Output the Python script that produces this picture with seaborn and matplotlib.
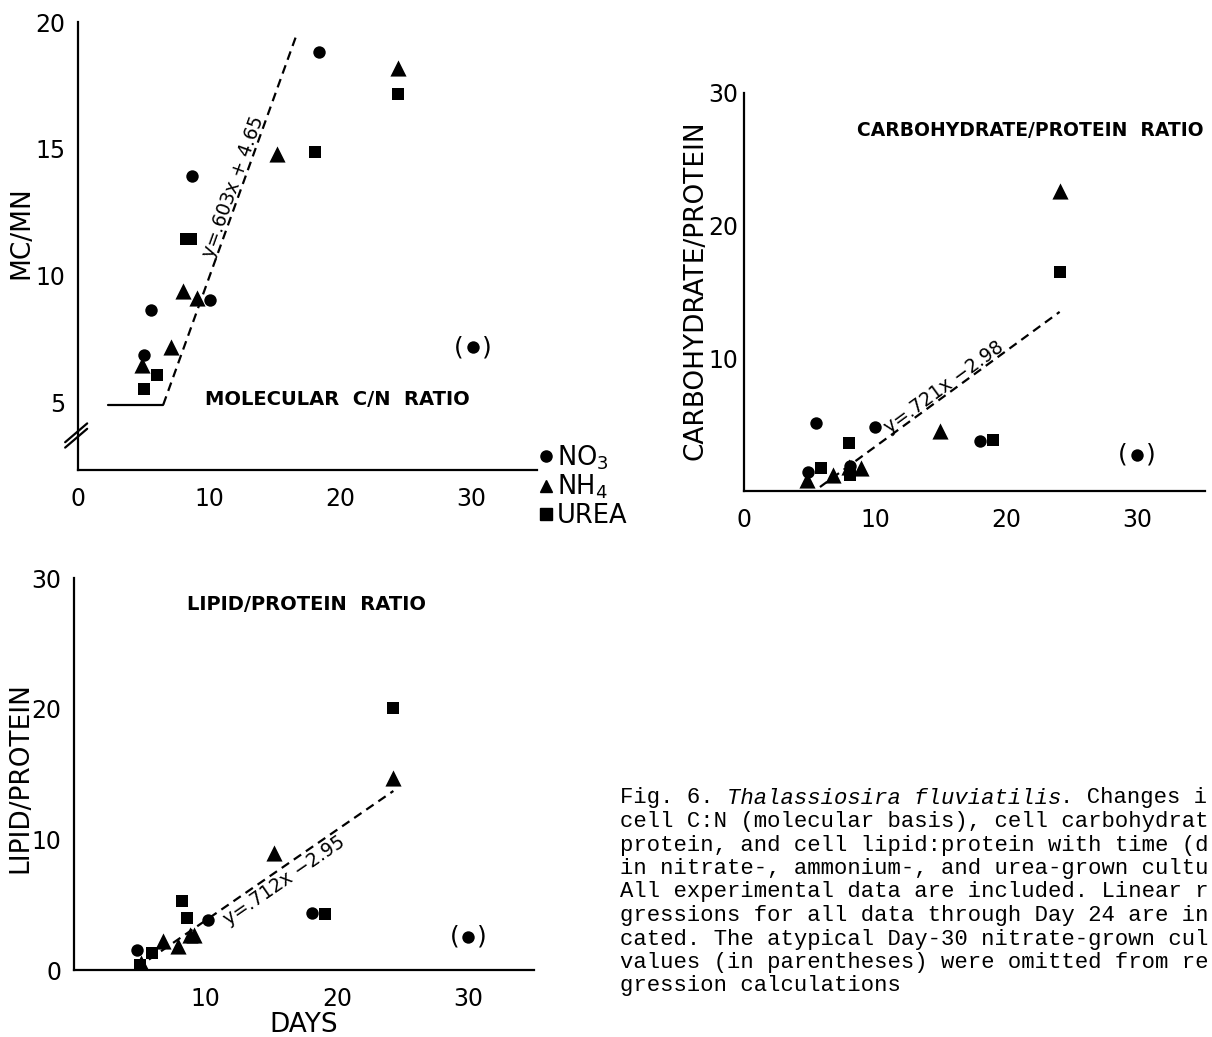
import numpy as np
import pandas as pd
import matplotlib
matplotlib.use("Agg")
import matplotlib.pyplot as plt
import seaborn as sns
from matplotlib.lines import Line2D

# --- molecular C/N ratio (top left) ---
cn_no3_day = [5.0, 5.6, 8.7, 10.1, 18.4, 30.1]
cn_no3 = [6.9, 8.65, 13.95, 9.05, 18.8, 7.2]
cn_nh4_day = [4.9, 7.1, 8.0, 9.1, 15.2, 24.4]
cn_nh4 = [6.5, 7.2, 9.4, 9.15, 14.8, 18.2]
cn_urea_day = [5.0, 6.0, 8.2, 8.6, 18.1, 24.4]
cn_urea = [5.55, 6.1, 11.45, 11.45, 14.9, 17.15]
cn_fit_day = [2.3, 6.5, 16.6]
cn_fit = [4.93, 4.93, 19.4]

# --- carbohydrate/protein ratio (top right) ---
cp_no3_day = [4.9, 5.5, 8.1, 10.0, 18.0, 30.0]
cp_no3 = [1.45, 5.1, 1.9, 4.8, 3.75, 2.75]
cp_nh4_day = [4.8, 6.8, 8.0, 8.9, 15.0, 24.1]
cp_nh4 = [0.85, 1.2, 1.8, 1.75, 4.55, 22.6]
cp_urea_day = [5.9, 8.0, 8.1, 19.0, 24.1]
cp_urea = [1.7, 3.6, 1.2, 3.85, 16.5]
cp_fit_day = [5.8, 24.1]
cp_fit = [0.3, 13.5]

# --- lipid/protein ratio (bottom left) ---
lp_no3_day = [4.8, 10.2, 18.1, 30.0]
lp_no3 = [1.55, 3.8, 4.4, 2.55]
lp_nh4_day = [5.1, 6.8, 7.9, 8.8, 9.1, 15.2, 24.3]
lp_nh4 = [0.55, 2.2, 1.8, 2.7, 2.65, 8.95, 14.7]
lp_urea_day = [5.0, 5.9, 8.2, 8.6, 19.1, 24.3]
lp_urea = [0.35, 1.3, 5.3, 3.95, 4.25, 20.05]
lp_fit_day = [5.7, 24.3]
lp_fit = [0.8, 13.7]

sources = ["NO3", "NH4", "UREA"]
source_labels = ["NO$_3$", "NH$_4$", "UREA"]
markers = {"NO3": "o", "NH4": "^", "UREA": "s"}
sizes = {"NO3": 80, "NH4": 135, "UREA": 70}

# caption, as far as it is visible on the page
caption = [
    "Fig. 6. ",
    "Thalassiosira fluviatilis",
    ". Changes i",
    "cell C:N (molecular basis), cell carbohydrat",
    "protein, and cell lipid:protein with time (d",
    "in nitrate-, ammonium-, and urea-grown cultu",
    "All experimental data are included. Linear r",
    "gressions for all data through Day 24 are in",
    "cated. The atypical Day-30 nitrate-grown cul",
    "values (in parentheses) were omitted from re",
    "gression calculations",
]


def make_frame(groups):
    parts = []
    for src, days, vals in zip(sources, groups[0::2], groups[1::2]):
        parts.append(pd.DataFrame({"day": days, "value": vals, "source": src}))
    return pd.concat(parts, ignore_index=True)


cn_df = make_frame([cn_no3_day, cn_no3, cn_nh4_day, cn_nh4, cn_urea_day, cn_urea])
cp_df = make_frame([cp_no3_day, cp_no3, cp_nh4_day, cp_nh4, cp_urea_day, cp_urea])
lp_df = make_frame([lp_no3_day, lp_no3, lp_nh4_day, lp_nh4, lp_urea_day, lp_urea])

sns.set_theme(style="white")
plt.rcParams["font.family"] = ["DejaVu Sans"]
plt.rcParams["axes.linewidth"] = 1.6
plt.rcParams["text.color"] = "black"
plt.rcParams["axes.labelcolor"] = "black"
plt.rcParams["axes.edgecolor"] = "black"
plt.rcParams["xtick.color"] = "black"
plt.rcParams["ytick.color"] = "black"

W, H = 1212, 1037
fig = plt.figure(figsize=(W / 100, H / 100), dpi=100)


def px_rect(x0, x1, y_top, y_bot):
    return [x0 / W, 1 - y_bot / H, (x1 - x0) / W, (y_bot - y_top) / H]


ax1 = fig.add_axes(px_rect(78, 537, 22, 470))
ax2 = fig.add_axes(px_rect(744, 1205, 93, 491))
ax3 = fig.add_axes(px_rect(74, 534, 578, 970))


def style_axes(ax, xlim, ylim, xticks, yticks, ylabel, label_xy, ypad=9):
    sns.despine(ax=ax)
    ax.set_xlim(*xlim)
    ax.set_ylim(*ylim)
    ax.set_xticks(xticks)
    ax.set_yticks(yticks)
    ax.tick_params(direction="in", length=7, width=1.6, labelsize=17)
    ax.tick_params(axis="x", pad=12)
    ax.tick_params(axis="y", pad=ypad)
    ax.set_xlabel("")
    ax.set_ylabel(ylabel, fontsize=19)
    ax.yaxis.set_label_coords(*label_xy)


def draw_points(ax, df):
    for src in sources:
        sns.scatterplot(data=df[df["source"] == src], x="day", y="value",
                        marker=markers[src], s=sizes[src], color="black",
                        linewidth=0, ax=ax, legend=False)


def fit_label(ax, xs, ys, text, pos, fs=13.5):
    p = ax.transData.transform(np.column_stack([xs[-2:], ys[-2:]]))
    ang = np.degrees(np.arctan2(p[1, 1] - p[0, 1], p[1, 0] - p[0, 0]))
    ax.text(pos[0], pos[1], text, rotation=ang, rotation_mode="anchor",
            ha="center", va="center", fontsize=fs)


def parens(ax, x, y):
    for s, dx in [("(", -10), (")", 10)]:
        ax.annotate(s, (x, y), xytext=(dx, 0), textcoords="offset points",
                    ha="center", va="center", fontsize=18)


dash = (0, (4, 2.6))

# top left
draw_points(ax1, cn_df)
style_axes(ax1, (0, 35), (2.36, 20), [0, 10, 20, 30], [5, 10, 15, 20], "MC/MN",
           (-0.094, 0.53))
ax1.plot(cn_fit_day[:2], cn_fit[:2], color="black", lw=1.6)
ax1.plot(cn_fit_day[1:], cn_fit[1:], color="black", lw=1.6, ls=dash)
fit_label(ax1, cn_fit_day, cn_fit, "y=.603x + 4.65", (11.85, 13.5))
ax1.text(9.7, 5.13, "MOLECULAR  C/N  RATIO", fontsize=14, fontweight="bold",
         va="center")
parens(ax1, cn_no3_day[-1], cn_no3[-1])
for dy in (0.0, 0.012):
    ax1.plot([-0.028, 0.02], [0.05 + dy, 0.092 + dy], transform=ax1.transAxes,
             color="black", lw=1.6, clip_on=False)

# top right
draw_points(ax2, cp_df)
style_axes(ax2, (0, 35.2), (0, 30), [0, 10, 20, 30], [10, 20, 30],
           "CARBOHYDRATE/PROTEIN", (-0.076, 0.505), ypad=4)
ax2.plot(cp_fit_day, cp_fit, color="black", lw=1.6, ls=dash)
fit_label(ax2, cp_fit_day, cp_fit, "y=.721x \u22122.98", (15.3, 7.85))
ax2.text(8.6, 27.2, "CARBOHYDRATE/PROTEIN  RATIO", fontsize=13.5,
         fontweight="bold", va="center")
parens(ax2, cp_no3_day[-1], cp_no3[-1])

# bottom left
draw_points(ax3, lp_df)
style_axes(ax3, (0, 35), (0, 30), [10, 20, 30], [0, 10, 20, 30], "LIPID/PROTEIN",
           (-0.089, 0.49))
ax3.plot(lp_fit_day, lp_fit, color="black", lw=1.6, ls=dash)
fit_label(ax3, lp_fit_day, lp_fit, "y=.712x \u22122.95", (16.0, 6.8))
ax3.text(17.7, 28.0, "LIPID/PROTEIN  RATIO", fontsize=14, fontweight="bold",
         ha="center", va="center")
ax3.set_xlabel("DAYS", fontsize=19, labelpad=1)
parens(ax3, lp_no3_day[-1], lp_no3[-1])

# legend for the nitrogen sources
handles = [Line2D([], [], marker=markers[s], color="black", linestyle="none",
                  markersize=8) for s in sources]
fig.legend(handles, source_labels, loc="upper left",
           bbox_to_anchor=(540 / W, 1 - 443 / H), frameon=False, fontsize=18.5,
           handlelength=0.5, handletextpad=0.15, labelspacing=0.05,
           borderpad=0, borderaxespad=0)

# caption in typewriter font
cw = 0.6 * 16 * 100 / 72 / W
y0 = 798
fig.text(620 / W, 1 - y0 / H, caption[0], family="Liberation Mono", fontsize=16,
         va="center")
fig.text(620 / W + len(caption[0]) * cw, 1 - y0 / H, caption[1],
         family="Liberation Mono", style="italic", fontsize=16, va="center")
fig.text(620 / W + (len(caption[0]) + len(caption[1])) * cw, 1 - y0 / H,
         caption[2], family="Liberation Mono", fontsize=16, va="center")
for i, line in enumerate(caption[3:], start=1):
    fig.text(620 / W, 1 - (y0 + i * 23.5) / H, line, family="Liberation Mono",
             fontsize=16, va="center")

fig.savefig("out.png", dpi=100, facecolor="white")
